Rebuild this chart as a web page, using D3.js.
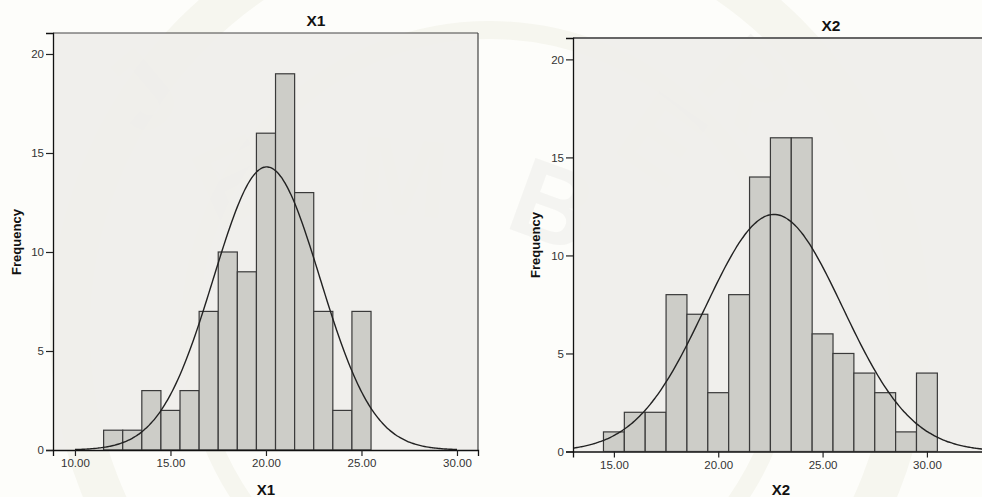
<!DOCTYPE html>
<html>
  <head>
    <meta charset="utf-8">
    <title>X1 X2 histograms</title>
    <style>
      body { margin: 0; background: #fdfdfa; }
      svg { display: block; }
    </style>
  </head>
  <body>
    <script src="https://cdn.jsdelivr.net/npm/d3@7"></script>
    <script type="text/javascript">
      // bins are 1 unit wide, value = bin start
      var x1Bins = [11.5, 12.5, 13.5, 14.5, 15.5, 16.5, 17.5, 18.5, 19.5, 20.5, 21.5, 22.5, 23.5, 24.5];
      var x1Counts = [1, 1, 3, 2, 3, 7, 10, 9, 16, 19, 13, 7, 2, 7];
      var x1Mean = 20.04, x1Sd = 2.79;

      var x2Bins = [14.5, 15.5, 16.5, 17.5, 18.5, 19.5, 20.5, 21.5, 22.5, 23.5, 24.5, 25.5, 26.5, 27.5, 28.5, 29.5];
      var x2Counts = [1, 2, 2, 8, 7, 3, 8, 14, 16, 16, 6, 5, 4, 3, 1, 4];
      var x2Mean = 22.67, x2Sd = 3.30;

      var xTicks1 = [10, 15, 20, 25, 30];
      var xTicks2 = [15, 20, 25, 30];
      var yTicks = [0, 5, 10, 15, 20];

      var width = 982, height = 497;
      var svg = d3.select("body").append("svg")
                  .attr("width", width)
                  .attr("height", height)
                  .style("font-family", "Liberation Sans, Arial, sans-serif");

      // faint watermark
      var wm = svg.append("g").attr("fill", "none").attr("stroke", "#f6f6ef");
      wm.append("circle").attr("cx", 490).attr("cy", 330).attr("r", 420).attr("stroke-width", 40);
      wm.append("circle").attr("cx", 490).attr("cy", 330).attr("r", 300).attr("stroke-width", 18);
      var letters = ["J", "E", "M", "B", "E", "R"];
      var lpos = [[165, 120, -40], [250, 215, -25], [400, 215, 5], [540, 240, 20], [640, 170, 35], [720, 110, 45]];
      svg.append("g").selectAll("text").data(letters).join("text")
         .attr("transform", function(d, i) { return "translate(" + lpos[i][0] + "," + lpos[i][1] + ") rotate(" + lpos[i][2] + ")"; })
         .attr("text-anchor", "middle")
         .attr("font-size", 110)
         .attr("font-weight", "bold")
         .attr("fill", "#efefec")
         .attr("opacity", 0.6)
         .text(function(d) { return d; });

      function histogram(opt) {
        var x = d3.scaleLinear().domain(opt.xDomain).range(opt.xRange);
        var y = d3.scaleLinear().domain(opt.yDomain).range(opt.yRange);
        var g = svg.append("g");
        var clipId = "clip" + opt.name;

        g.append("clipPath").attr("id", clipId)
         .append("rect")
         .attr("x", opt.xRange[0]).attr("y", opt.yRange[1])
         .attr("width", opt.xRange[1] - opt.xRange[0])
         .attr("height", opt.yRange[0] - opt.yRange[1]);

        g.append("rect")
         .attr("x", opt.xRange[0]).attr("y", opt.yRange[1])
         .attr("width", opt.xRange[1] - opt.xRange[0])
         .attr("height", opt.yRange[0] - opt.yRange[1])
         .attr("fill", "#efeeea")
         .attr("opacity", 0.92);

        var plot = g.append("g").attr("clip-path", "url(#" + clipId + ")");

        plot.selectAll("rect.bar").data(opt.bins).join("rect")
            .attr("class", "bar")
            .attr("x", function(d) { return x(d); })
            .attr("y", function(d, i) { return y(opt.counts[i]); })
            .attr("width", function(d) { return x(d + 1) - x(d); })
            .attr("height", function(d, i) { return y(0) - y(opt.counts[i]); })
            .attr("fill", "#cdcdc8")
            .attr("stroke", "#3a3a3a")
            .attr("stroke-width", 1.2);

        var n = d3.sum(opt.counts);
        var pts = d3.range(opt.curve[0], opt.curve[1] + 0.001, 0.1);
        var line = d3.line()
                     .x(function(d) { return x(d); })
                     .y(function(d) {
                       var z = (d - opt.mean) / opt.sd;
                       return y(n / (opt.sd * Math.sqrt(2 * Math.PI)) * Math.exp(-0.5 * z * z));
                     })
                     .curve(d3.curveCatmullRom);
        plot.append("path").attr("d", line(pts))
            .attr("fill", "none")
            .attr("stroke", "#222")
            .attr("stroke-width", 1.4);

        // frame
        g.append("line")
         .attr("x1", opt.xRange[0]).attr("x2", opt.xRange[1])
         .attr("y1", opt.yRange[1]).attr("y2", opt.yRange[1])
         .attr("stroke", opt.topColor).attr("stroke-width", opt.topWidth);
        if (opt.rightFrame) {
          g.append("line")
           .attr("x1", opt.xRange[1]).attr("x2", opt.xRange[1])
           .attr("y1", opt.yRange[1]).attr("y2", opt.yRange[0])
           .attr("stroke", "#444").attr("stroke-width", 1.2);
        }

        var yAxis = g.append("g")
                     .attr("transform", "translate(" + opt.xRange[0] + ",0)")
                     .call(d3.axisLeft(y).tickValues(yTicks).tickSize(7).tickPadding(2));
        var xAxis = g.append("g")
                     .attr("transform", "translate(0," + opt.yRange[0] + ")")
                     .call(d3.axisBottom(x).tickValues(opt.xTicks).tickSize(6).tickPadding(3)
                             .tickFormat(d3.format(".2f")));
        [xAxis, yAxis].forEach(function(a) {
          a.select(".domain").attr("stroke", "#111").attr("stroke-width", 1.3);
          a.selectAll(".tick line").attr("stroke", "#222").attr("stroke-width", 1.2);
          a.selectAll(".tick text").attr("fill", "#333").attr("font-size", 11.5)
           .attr("font-family", "Liberation Sans, Arial, sans-serif");
        });

        g.append("text")
         .attr("x", opt.titleX).attr("y", opt.titleY)
         .attr("text-anchor", "middle")
         .attr("font-size", 15.5).attr("font-weight", "bold").attr("fill", "#111")
         .text(opt.name);

        g.append("text")
         .attr("x", opt.titleX2).attr("y", 495)
         .attr("text-anchor", "middle")
         .attr("font-size", 15).attr("font-weight", "bold").attr("fill", "#111")
         .text(opt.name);

        g.append("text")
         .attr("transform", "translate(" + opt.freqX + "," + opt.freqY + ") rotate(-90)")
         .attr("text-anchor", "middle")
         .attr("font-size", 13).attr("font-weight", "bold").attr("fill", "#111")
         .text("Frequency");
      }

      histogram({
        name: "X1", bins: x1Bins, counts: x1Counts, mean: x1Mean, sd: x1Sd,
        xDomain: [8.85, 31.1], xRange: [53, 478],
        yDomain: [0, 21.06], yRange: [450, 33],
        xTicks: xTicks1, curve: [10, 30],
        topColor: "#444", topWidth: 1.2, rightFrame: true,
        titleX: 316, titleY: 26, titleX2: 266, freqX: 21, freqY: 242
      });

      histogram({
        name: "X2", bins: x2Bins, counts: x2Counts, mean: x2Mean, sd: x2Sd,
        xDomain: [13.04, 34], xRange: [573, 1010.4],
        yDomain: [0, 21.09], yRange: [451.5, 38],
        xTicks: xTicks2, curve: [13.04, 34],
        topColor: "#666", topWidth: 2, rightFrame: false,
        titleX: 831, titleY: 31, titleX2: 781, freqX: 540, freqY: 245
      });
    </script>
  </body>
</html>
